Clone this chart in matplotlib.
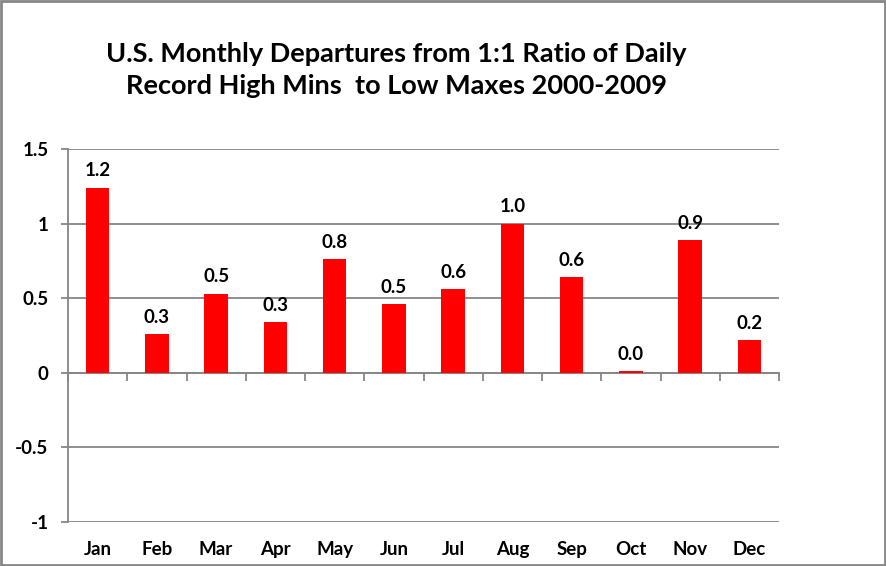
import matplotlib.pyplot as plt
import numpy as np

months = ['Jan', 'Feb', 'Mar', 'Apr', 'May', 'Jun', 'Jul', 'Aug', 'Sep', 'Oct', 'Nov', 'Dec']
departures = [1.24, 0.26, 0.53, 0.34, 0.76, 0.46, 0.56, 1.0, 0.64, 0.01, 0.89, 0.22]
y_ticks = [-1, -0.5, 0, 0.5, 1, 1.5]
y_tick_labels = ['-1', '-0.5', '0', '0.5', '1', '1.5']

plt.rcParams['font.family'] = ['Lato', 'DejaVu Sans']
grid_col = '#868686'
fs = 13.5

fig = plt.figure(figsize=(8.86, 5.66), dpi=100)
ax = fig.add_axes([68/886, 1 - 522/566, (779-68)/886, (522-149)/566])

x = np.arange(len(months))
ax.bar(x, departures, width=0.4, color='#ff0000', zorder=3)

# value labels above the bars
for xi, v in zip(x, departures):
    ax.annotate(f'{v:.1f}', (xi, v), xytext=(0, 6), textcoords='offset points',
                ha='center', va='bottom', fontsize=fs, fontweight='bold')

ax.set_xlim(-0.5, len(months) - 0.5)
ax.set_ylim(-1, 1.5)
ax.set_yticks(y_ticks)
ax.set_yticklabels(y_tick_labels, fontsize=fs, fontweight='bold')
ax.yaxis.grid(True, color=grid_col, linewidth=1.3, zorder=0)
ax.set_axisbelow(True)

# category axis crosses at zero, ticks at category boundaries
ax.spines['bottom'].set_position(('data', 0))
ax.spines['bottom'].set_color(grid_col)
ax.spines['bottom'].set_linewidth(1.3)
ax.spines['left'].set_color(grid_col)
ax.spines['left'].set_linewidth(1.3)
ax.spines['top'].set_visible(False)
ax.spines['right'].set_visible(False)
ax.set_xticks(np.arange(len(months) + 1) - 0.5)
ax.set_xticklabels([])
ax.tick_params(axis='x', direction='out', length=6, width=1.3, color=grid_col)
ax.tick_params(axis='y', direction='out', length=5, width=1.3, color=grid_col, pad=9)

# month names along the bottom of the plot area
for xi, m in zip(x, months):
    ax.text(xi, -0.074, m, transform=ax.get_xaxis_transform(), ha='center', va='center',
            fontsize=fs, fontweight='bold')

fig.text(396/886, 1 - 70/566, 'U.S. Monthly Departures from 1:1 Ratio of Daily\nRecord High Mins  to Low Maxes 2000-2009',
         ha='center', va='center', fontsize=19.5, fontweight='bold', linespacing=1.35)

# chart border
fig.patches.append(plt.Rectangle((0.001, 0.001), 0.998, 0.997, transform=fig.transFigure,
                                 fill=False, edgecolor=grid_col, linewidth=2))

fig.savefig('out.png', dpi=100)
